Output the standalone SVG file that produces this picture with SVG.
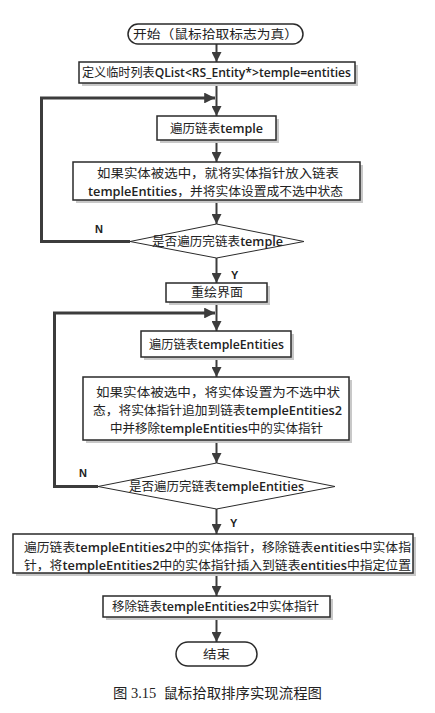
<svg xmlns="http://www.w3.org/2000/svg" width="435" height="713" viewBox="0 0 435 713">
<style>
.box{fill:#fff;stroke:#2a2a2a;stroke-width:1.5}
.sh{fill:#c8c8c8}
.t{font-family:"Noto Sans CJK SC","Liberation Sans",sans-serif;font-size:12.5px;fill:#222}
.b{font-family:"Open Sans","Liberation Sans",sans-serif;font-weight:600}
.c{stroke:#3c3c3c;stroke-width:2;fill:none}
.loop{stroke:#3c3c3c;stroke-width:3;fill:none}
.lbl{font-family:"Liberation Sans",sans-serif;font-size:11px;font-weight:bold;fill:#222}
.cap{font-family:"Liberation Serif","Noto Sans CJK SC",serif;font-size:14px;fill:#222}
</style>
<defs>
<marker id="ah" viewBox="0 0 10 10" refX="10" refY="5" markerWidth="5" markerHeight="5" orient="auto" markerUnits="strokeWidth">
<path d="M0,0L10,5L0,10z" fill="#3c3c3c"/>
</marker>
<marker id="ah2" viewBox="0 0 10 10" refX="10" refY="5" markerWidth="3.6" markerHeight="3.6" orient="auto" markerUnits="strokeWidth">
<path d="M0,0L10,5L0,10z" fill="#3c3c3c"/>
</marker>
</defs>
<rect width="435" height="713" fill="#fff"/>
<g id="connectors">
<line class="c" x1="216.5" y1="44" x2="216.5" y2="62" marker-end="url(#ah)"/>
<line class="c" x1="216.5" y1="83" x2="216.5" y2="116" marker-end="url(#ah)"/>
<line class="c" x1="216.5" y1="140" x2="216.5" y2="162" marker-end="url(#ah)"/>
<line class="c" x1="216.5" y1="200" x2="216.5" y2="224" marker-end="url(#ah)"/>
<line class="c" x1="216.5" y1="258" x2="216.5" y2="283" marker-end="url(#ah)"/>
<polyline class="loop" points="130,241.5 41.5,241.5 41.5,98 215,98" marker-end="url(#ah2)"/>
<line class="c" x1="216.5" y1="302" x2="216.5" y2="331" marker-end="url(#ah)"/>
<line class="c" x1="216.5" y1="357" x2="216.5" y2="377" marker-end="url(#ah)"/>
<line class="c" x1="216.5" y1="440" x2="216.5" y2="463" marker-end="url(#ah)"/>
<line class="c" x1="216.5" y1="509" x2="216.5" y2="534" marker-end="url(#ah)"/>
<polyline class="loop" points="98,486.5 54.5,486.5 54.5,313 215,313" marker-end="url(#ah2)"/>
<line class="c" x1="216.5" y1="573" x2="216.5" y2="596" marker-end="url(#ah)"/>
<line class="c" x1="216.5" y1="617" x2="216.5" y2="642" marker-end="url(#ah)"/>
<text class="lbl" x="95" y="233">N</text>
<text class="lbl" x="231" y="279">Y</text>
<text class="lbl" x="79" y="477">N</text>
<text class="lbl" x="230" y="527">Y</text>
</g>
<g id="start">
<rect class="box" x="128" y="24" width="175" height="20" rx="10"/>
<text class="t" x="133" y="38.5" textLength="165" lengthAdjust="spacingAndGlyphs">开始（鼠标拾取标志为真）</text>
</g>
<g id="define">
<rect class="sh" x="82" y="65" width="276" height="21"/>
<rect class="box" x="79" y="62" width="276" height="21"/>
<text class="t" x="82" y="77" textLength="269" lengthAdjust="spacingAndGlyphs">定义临时列表<tspan class="b">QList&lt;RS_Entity*&gt;temple=entities</tspan></text>
</g>
<g id="traverse1">
<rect class="sh" x="160" y="119" width="119" height="24"/>
<rect class="box" x="157" y="116" width="119" height="24"/>
<text class="t" x="170" y="132.5" textLength="93" lengthAdjust="spacingAndGlyphs">遍历链表<tspan class="b">temple</tspan></text>
</g>
<g id="select1">
<rect class="sh" x="76" y="165" width="287" height="38"/>
<rect class="box" x="73" y="162" width="287" height="38"/>
<text class="t" x="97" y="177.5" textLength="242" lengthAdjust="spacingAndGlyphs">如果实体被选中，就将实体指针放入链表</text>
<text class="t" x="88" y="195.5" textLength="255" lengthAdjust="spacingAndGlyphs"><tspan class="b">templeEntities</tspan>，并将实体设置成不选中状态</text>
</g>
<g id="decision1">
<polygon class="box" points="216.5,224 304,241.5 216.5,258 130,241.5" style="stroke-width:1"/>
<text class="t" x="152" y="245.5" textLength="131" lengthAdjust="spacingAndGlyphs">是否遍历完链表<tspan class="b">temple</tspan></text>
</g>
<g id="redraw">
<rect class="sh" x="169" y="286" width="101" height="19"/>
<rect class="box" x="166" y="283" width="101" height="19"/>
<text class="t" x="191" y="297" textLength="52" lengthAdjust="spacingAndGlyphs">重绘界面</text>
</g>
<g id="traverse2">
<rect class="sh" x="144" y="334" width="150" height="26"/>
<rect class="box" x="141" y="331" width="150" height="26"/>
<text class="t" x="149" y="348.5" textLength="135" lengthAdjust="spacingAndGlyphs">遍历链表<tspan class="b">templeEntities</tspan></text>
</g>
<g id="select2">
<rect class="sh" x="86" y="380" width="266" height="63"/>
<rect class="box" x="83" y="377" width="266" height="63"/>
<text class="t" x="96" y="397" textLength="244" lengthAdjust="spacingAndGlyphs">如果实体被选中，将实体设置为不选中状</text>
<text class="t" x="93" y="415" textLength="249" lengthAdjust="spacingAndGlyphs">态，将实体指针追加到链表<tspan class="b">templeEntities2</tspan></text>
<text class="t" x="110" y="433" textLength="213" lengthAdjust="spacingAndGlyphs">中并移除<tspan class="b">templeEntities</tspan>中的实体指针</text>
</g>
<g id="decision2">
<polygon class="box" points="216.5,463 335,486.5 216.5,509 98,486.5" style="stroke-width:1"/>
<text class="t" x="129" y="490.5" textLength="175" lengthAdjust="spacingAndGlyphs">是否遍历完链表<tspan class="b">templeEntities</tspan></text>
</g>
<g id="reorder">
<rect class="sh" x="16" y="537" width="400" height="39"/>
<rect class="box" x="13" y="534" width="400" height="39"/>
<text class="t" x="24" y="551.5" textLength="387" lengthAdjust="spacingAndGlyphs">遍历链表<tspan class="b">templeEntities2</tspan>中的实体指针，移除链表<tspan class="b">entities</tspan>中实体指</text>
<text class="t" x="24" y="569.5" textLength="387" lengthAdjust="spacingAndGlyphs">针，将<tspan class="b">templeEntities2</tspan>中的实体指针插入到链表<tspan class="b">entities</tspan>中指定位置</text>
</g>
<g id="remove">
<rect class="sh" x="106" y="599" width="227" height="21"/>
<rect class="box" x="103" y="596" width="227" height="21"/>
<text class="t" x="112" y="611" textLength="207" lengthAdjust="spacingAndGlyphs">移除链表<tspan class="b">templeEntities2</tspan>中实体指针</text>
</g>
<g id="end">
<rect class="box" x="176" y="642" width="81" height="24" rx="12"/>
<text class="t" x="203" y="658.5" textLength="27" lengthAdjust="spacingAndGlyphs">结束</text>
</g>
<text class="cap" x="113" y="698" xml:space="preserve" style="white-space:pre" textLength="209" lengthAdjust="spacingAndGlyphs">图 3.15  鼠标拾取排序实现流程图</text>
</svg>
